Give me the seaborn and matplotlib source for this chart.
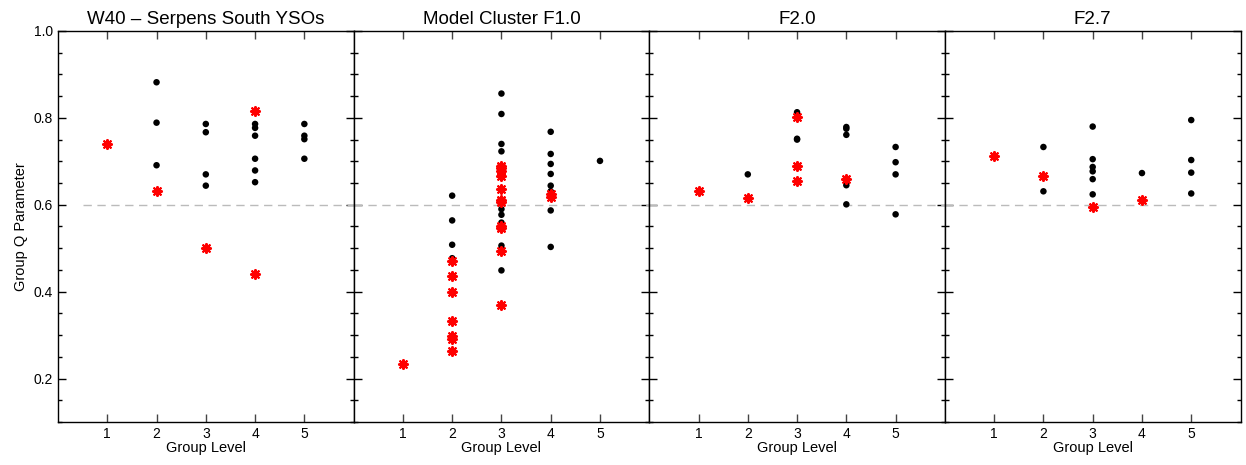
import matplotlib
matplotlib.use("Agg")
import matplotlib.pyplot as plt
import seaborn as sns
import pandas as pd
from matplotlib.ticker import MultipleLocator, FixedLocator

# ---- data ----
titles = ["W40 \u2013 Serpens South YSOs", "Model Cluster F1.0", "F2.0", "F2.7"]

# W40
w40_black_lvl = [2, 2, 2, 3, 3, 3, 3, 4, 4, 4, 4, 4, 4, 4, 5, 5, 5, 5]
w40_black_q = [0.882, 0.789, 0.691, 0.786, 0.767, 0.670, 0.644,
               0.816, 0.786, 0.777, 0.759, 0.706, 0.679, 0.652,
               0.786, 0.759, 0.751, 0.706]
w40_red_lvl = [1, 2, 3, 4, 4]
w40_red_q = [0.741, 0.632, 0.500, 0.816, 0.441]

# F1.0
f10_black_lvl = [2, 2, 2, 2,
                 3, 3, 3, 3, 3, 3, 3, 3, 3, 3, 3,
                 4, 4, 4, 4, 4, 4, 4, 4,
                 5]
f10_black_q = [0.621, 0.564, 0.508, 0.477,
               0.856, 0.809, 0.740, 0.723, 0.677, 0.590, 0.577, 0.559, 0.550, 0.506, 0.449,
               0.768, 0.717, 0.694, 0.671, 0.644, 0.631, 0.587, 0.503,
               0.701]
f10_red_lvl = [1,
               2, 2, 2, 2, 2, 2, 2,
               3, 3, 3, 3, 3, 3, 3, 3, 3, 3, 3,
               4, 4]
f10_red_q = [0.234,
             0.471, 0.435, 0.400, 0.333, 0.297, 0.290, 0.263,
             0.690, 0.684, 0.677, 0.667, 0.636, 0.610, 0.606, 0.550, 0.546, 0.493, 0.370,
             0.624, 0.619]

# F2.0
f20_black_lvl = [2, 3, 3, 3, 3, 3, 4, 4, 4, 4, 4, 5, 5, 5, 5]
f20_black_q = [0.670, 0.813, 0.809, 0.752, 0.750, 0.688,
               0.779, 0.775, 0.761, 0.645, 0.601,
               0.733, 0.698, 0.670, 0.578]
f20_red_lvl = [1, 2, 3, 3, 3, 4]
f20_red_q = [0.631, 0.615, 0.802, 0.690, 0.655, 0.659]

# F2.7
f27_black_lvl = [2, 2, 3, 3, 3, 3, 3, 3, 4, 5, 5, 5, 5]
f27_black_q = [0.733, 0.631, 0.780, 0.705, 0.687, 0.677, 0.659, 0.624,
               0.673, 0.795, 0.703, 0.674, 0.626]
f27_red_lvl = [1, 2, 3, 4]
f27_red_q = [0.713, 0.666, 0.596, 0.611]

black_sets = [(w40_black_lvl, w40_black_q), (f10_black_lvl, f10_black_q),
              (f20_black_lvl, f20_black_q), (f27_black_lvl, f27_black_q)]
red_sets = [(w40_red_lvl, w40_red_q), (f10_red_lvl, f10_red_q),
            (f20_red_lvl, f20_red_q), (f27_red_lvl, f27_red_q)]

q_threshold = 0.6
level_ticks = [1, 2, 3, 4, 5]
q_ticks = [0.2, 0.4, 0.6, 0.8, 1.0]

# ---- style ----
sns.set_style("ticks")
plt.rcParams["font.family"] = ["Liberation Sans", "DejaVu Sans"]
plt.rcParams["axes.linewidth"] = 1.0
plt.rcParams["xtick.direction"] = "in"
plt.rcParams["ytick.direction"] = "in"
plt.rcParams["text.color"] = "black"
plt.rcParams["axes.labelcolor"] = "black"

fig = plt.figure(figsize=(12.46, 4.65), dpi=100)
left, right = 58 / 1246, 1240.5 / 1246
bottom, top = 1 - 422 / 465, 1 - 31 / 465
w = (right - left) / 4
axes = []
for i in range(4):
    ax = fig.add_axes([left + i * w, bottom, w, top - bottom])
    axes.append(ax)

hl_ranges = [(0.5, 6), (0, 6), (0, 6), (0, 5.5)]

for i, ax in enumerate(axes):
    bl, bq = black_sets[i]
    rl, rq = red_sets[i]
    dfb = pd.DataFrame({"lvl": bl, "q": bq})
    dfr = pd.DataFrame({"lvl": rl, "q": rq})
    ax.hlines(q_threshold, hl_ranges[i][0], hl_ranges[i][1], colors="#bbbbbb",
              linestyles=(0, (6, 4)), linewidth=1.0, zorder=1)
    sns.scatterplot(data=dfb, x="lvl", y="q", ax=ax, color="black", s=22,
                    marker="o", edgecolor="none", zorder=3)
    sns.scatterplot(data=dfr, x="lvl", y="q", ax=ax, color="red", s=42,
                    marker=(8, 2, 0), linewidth=1.5, edgecolor="red", zorder=4)
    ax.set_xlim(0, 6)
    ax.set_ylim(0.1, 1.0)
    ax.xaxis.set_major_locator(FixedLocator(level_ticks))
    ax.yaxis.set_major_locator(FixedLocator(q_ticks))
    ax.yaxis.set_minor_locator(MultipleLocator(0.05))
    ax.tick_params(axis="both", which="major", direction="in", length=6, width=1,
                   top=True, right=True, labelsize=10, colors="black")
    ax.tick_params(axis="x", which="major", color="#444444")
    ax.tick_params(axis="y", which="minor", direction="in", length=3, width=1,
                   left=True, right=True, color="black")
    ax.tick_params(axis="x", which="minor", bottom=False, top=False)
    ax.set_xticklabels([str(t) for t in level_ticks])
    ax.set_xlabel("Group Level", fontsize=10.5, labelpad=0)
    ax.set_title(titles[i], fontsize=13.5, pad=5)
    for sp in ax.spines.values():
        sp.set_color("black")
        sp.set_visible(True)
    if i == 0:
        ax.set_yticklabels([f"{t:.1f}" for t in q_ticks])
        ax.set_ylabel("Group Q Parameter", fontsize=10.5, labelpad=4)
    else:
        ax.set_yticklabels([])
        ax.set_ylabel("")

fig.savefig("out.png", dpi=100)
